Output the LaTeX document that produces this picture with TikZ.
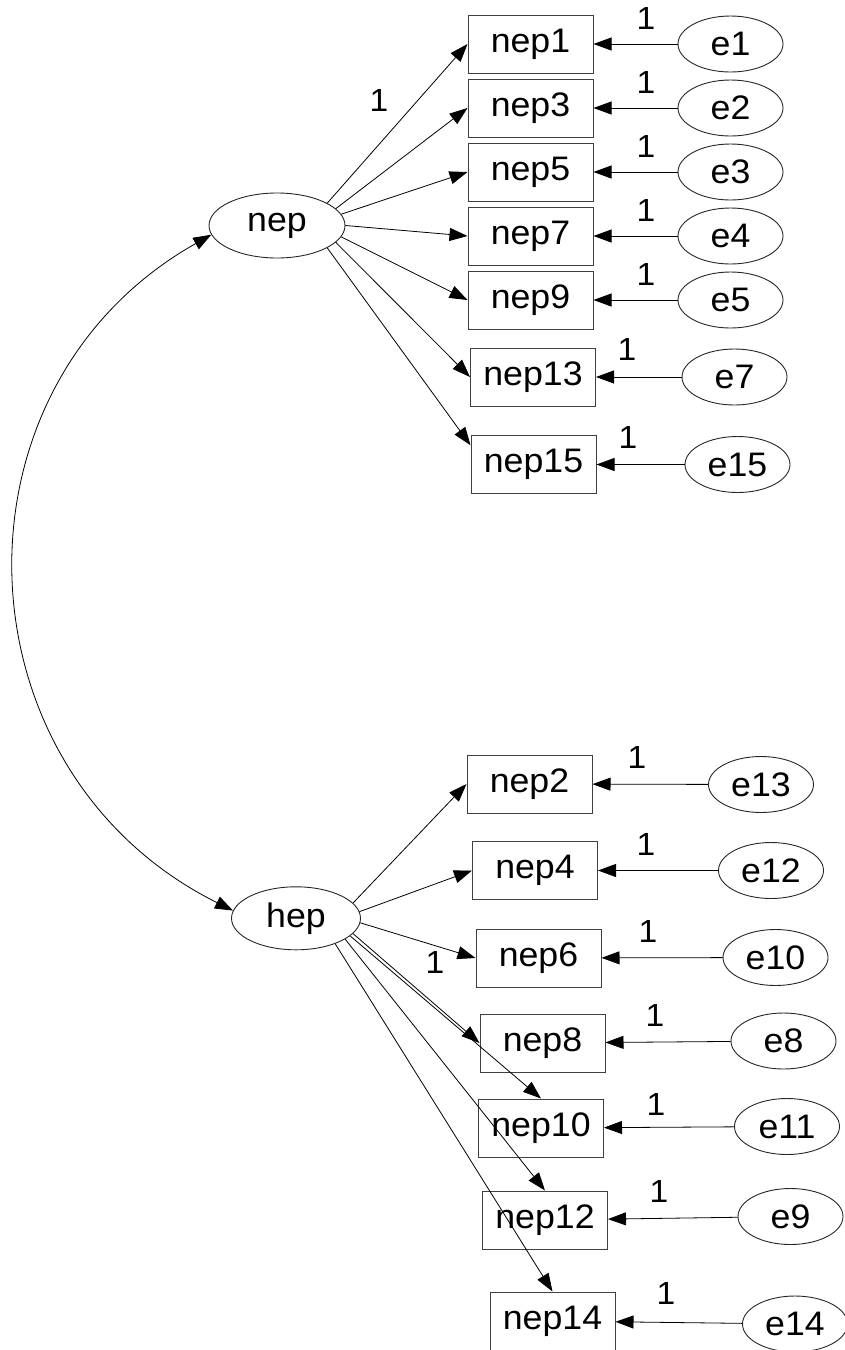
\documentclass[tikz,border=0pt]{standalone}
\usepackage{fontspec}
\setmainfont{Liberation Sans}[FakeStretch=1.05]
\usetikzlibrary{arrows.meta,shapes.geometric}
\begin{document}
\begin{tikzpicture}[x=1pt,y=-1pt,
  every node/.style={font=\fontsize{34}{40}\selectfont},
  obs/.style={draw=black!75,line width=1pt,rectangle,minimum width=125pt,minimum height=58pt,inner sep=0pt},
  lat/.style={draw=black!85,line width=0.9pt,ellipse,inner sep=0pt},
  err/.style={draw=black!85,line width=0.9pt,ellipse,inner sep=0pt,minimum width=105pt,minimum height=56pt},
  wt/.style={inner sep=0pt,font=\fontsize{32}{38}\selectfont},
  path/.style={line width=0.8pt,-{Triangle[length=18pt,width=13pt]}},
  cov/.style={line width=0.8pt,{Triangle[length=18pt,width=13pt]}-{Triangle[length=18pt,width=13pt]}}
]
\useasboundingbox (0,0) rectangle (845,1350);

% latent factors
\node[lat,minimum width=136pt,minimum height=65pt] (nep) at (277,225.5) {nep};
\node[lat,minimum width=129pt,minimum height=63pt] (hep) at (296,918.3) {hep};

% indicators of nep
\node[obs] (nep1)  at (530.5,44)  {nep1};
\node[obs] (nep3)  at (530.5,108) {nep3};
\node[obs] (nep5)  at (530.5,172) {nep5};
\node[obs] (nep7)  at (530.5,236) {nep7};
\node[obs] (nep9)  at (530.5,300) {nep9};
\node[obs] (nep13) at (533,377)   {nep13};
\node[obs] (nep15) at (533.5,464.5) {nep15};

% indicators of hep
\node[obs] (nep2)  at (529.5,784)  {nep2};
\node[obs] (nep4)  at (535,870.5)  {nep4};
\node[obs] (nep6)  at (538.5,958)  {nep6};
\node[obs] (nep8)  at (542.5,1043) {nep8};
\node[obs] (nep10) at (541,1128)   {nep10};
\node[obs] (nep12) at (545,1220)   {nep12};
\node[obs] (nep14) at (552.5,1321) {nep14};

% error terms
\node[err] (e1)  at (730.5,44)    {e1};
\node[err] (e2)  at (730.5,108)   {e2};
\node[err] (e3)  at (730.5,172)   {e3};
\node[err] (e4)  at (730.5,236)   {e4};
\node[err] (e5)  at (730.5,300)   {e5};
\node[err] (e7)  at (734.5,377)   {e7};
\node[err] (e15) at (737.5,464.5) {e15};
\node[err] (e13) at (761,784.5)   {e13};
\node[err] (e12) at (771,870.5)   {e12};
\node[err] (e10) at (775.5,957.5) {e10};
\node[err] (e8)  at (783.5,1041)  {e8};
\node[err] (e11) at (787,1126.5)  {e11};
\node[err] (e9)  at (790.5,1216.5) {e9};
\node[err] (e14) at (795,1324)    {e14};

% loadings of nep
\draw[path] (nep.24)  -- (nep1.west);
\draw[path] (nep.16.5) -- (nep3.west);
\draw[path] (nep.10)  -- (nep5.west);
\draw[path] (nep.0)   -- (nep7.west);
\draw[path] (nep.-10) -- (nep9.west);
\draw[path] (nep.-16.8) -- (nep13.west);
\draw[path] (nep.-24) -- (nep15.163);

% loadings of hep
\draw[path] (hep.15)  -- (nep2.west);
\draw[path] (hep.6)   -- (nep4.west);
\draw[path] (hep.-4)  -- (nep6.west);
\draw[path] (hep.-15) -- (nep8.west);
\draw[path] (hep.-18) -- (nep10.north);
\draw[path] (hep.-23) -- (nep12.north);
\draw[path] (hep.-33) -- (nep14.north);

% error paths
\foreach \e/\v in {e1/nep1,e2/nep3,e3/nep5,e4/nep7,e5/nep9,e7/nep13,e15/nep15,
                   e13/nep2,e12/nep4,e10/nep6,e8/nep8,e11/nep10,e9/nep12,e14/nep14}
  \draw[path] (\e) -- (\v);

% covariance between the factors
\draw[cov] (nep.188) .. controls +(-271,153) and +(-279,-139) .. (hep.173);

% fixed weights
\node[wt] (w0)  at (379,100) {1};
\node[wt] (w1)  at (646,18)  {1};
\node[wt] (w2)  at (646,82)  {1};
\node[wt] (w3)  at (646,146) {1};
\node[wt] (w4)  at (646,210) {1};
\node[wt] (w5)  at (646,274) {1};
\node[wt] (w7)  at (627,349) {1};
\node[wt] (w15) at (628,437) {1};
\node[wt] (wh)  at (435,962) {1};
\node[wt] (w13) at (637,757) {1};
\node[wt] (w12) at (646,844) {1};
\node[wt] (w10) at (648,931) {1};
\node[wt] (w8)  at (655,1015) {1};
\node[wt] (w11) at (656,1104) {1};
\node[wt] (w9)  at (659,1191) {1};
\node[wt] (w14) at (666,1293) {1};
\end{tikzpicture}
\end{document}
